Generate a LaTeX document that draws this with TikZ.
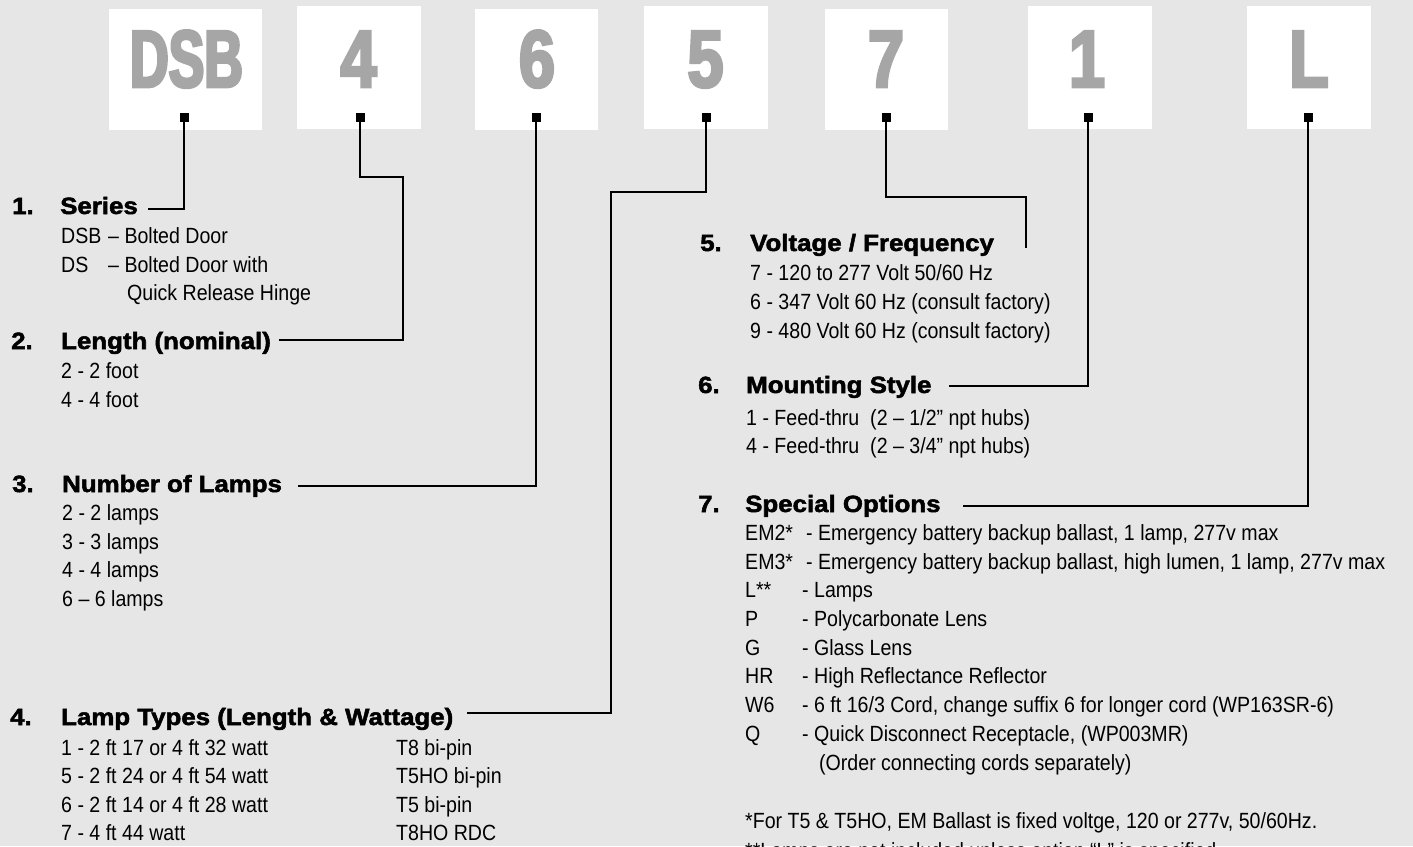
\documentclass[tikz,border=0pt]{standalone}
\usepackage{fontspec}
\setmainfont{Liberation Sans}[FakeStretch=0.89]
\newfontfamily\headfont{Liberation Sans}[UprightFont=* Bold, FakeStretch=1.1, FakeBold=2.2]
\newfontfamily\bigletfont{Liberation Sans}[UprightFont=* Bold, FakeStretch=0.66, FakeBold=3.5]
\newfontfamily\bigdigfont{Liberation Sans}[UprightFont=* Bold, FakeStretch=0.8, FakeBold=3.5]
\definecolor{bgc}{HTML}{E6E6E6}
\definecolor{letc}{HTML}{A6A6A6}
\tikzset{
  codebox/.style={fill=white, draw=none, inner sep=0pt},
  biglet/.style={anchor=base, inner sep=0pt, text=letc, font=\bigletfont\fontsize{81}{81}\selectfont},
  bigdig/.style={anchor=base, inner sep=0pt, text=letc, font=\bigdigfont\fontsize{81}{81}\selectfont},
  sq/.style={fill=black, draw=none, minimum size=9pt, inner sep=0pt},
  conn/.style={draw=black, line width=2.7pt},
  num/.style={anchor=base west, inner sep=0pt, font=\headfont\fontsize{23.5}{26}\selectfont},
  head/.style={anchor=base west, inner sep=0pt, font=\headfont\fontsize{23.5}{26}\selectfont},
  item/.style={anchor=base west, inner sep=0pt, font=\fontsize{22}{26}\selectfont},
}
\begin{document}
\begin{tikzpicture}[x=1pt, y=-1pt]
\useasboundingbox (0,0) rectangle (1413,846);
\clip (0,0) rectangle (1413,846);
\fill[bgc] (0,0) rectangle (1413,846);

% code boxes
\node[codebox, minimum width=153pt, minimum height=121pt] (b1) at (185.5,69.5) {};
\node[codebox, minimum width=124pt, minimum height=123pt] (b2) at (359,67.5) {};
\node[codebox, minimum width=123pt, minimum height=121pt] (b3) at (536.5,69.5) {};
\node[codebox, minimum width=124pt, minimum height=123pt] (b4) at (706,67.5) {};
\node[codebox, minimum width=123pt, minimum height=121pt] (b5) at (886.5,69.5) {};
\node[codebox, minimum width=124pt, minimum height=123pt] (b6) at (1090,67.5) {};
\node[codebox, minimum width=124pt, minimum height=123pt] (b7) at (1309,67.5) {};

\node[biglet] (t1) at (186.5,87) {DSB};
\node[bigdig] (t2) at (358.5,87) {4};
\node[bigdig] (t3) at (537,87) {6};
\node[bigdig] (t4) at (705.5,87) {5};
\node[bigdig] (t5) at (886,87) {7};
\node[bigdig] (t6) at (1087,87) {1};
\node[bigdig] (t7) at (1309,87) {L};

\node[sq] (s1) at (184,117) {};
\node[sq] (s2) at (360,117) {};
\node[sq] (s3) at (536,117) {};
\node[sq] (s4) at (706,117) {};
\node[sq] (s5) at (886,117) {};
\node[sq] (s6) at (1088,117) {};
\node[sq] (s7) at (1308,117) {};

% connector coordinates
\coordinate (e1) at (148,209);
\coordinate (c2) at (403,177);
\coordinate (e2) at (279,340);
\coordinate (e3) at (298,486);
\coordinate (c4) at (611,192);
\coordinate (e4) at (467,713);
\coordinate (c5) at (1026,197);
\coordinate (e5) at (1026,248);
\coordinate (e6) at (949,386);
\coordinate (e7) at (963,506);

\draw[conn] (s1.center) |- (e1);
\draw[conn] (s2.center) |- (c2) |- (e2);
\draw[conn] (s3.center) |- (e3);
\draw[conn] (s4.center) |- (c4) |- (e4);
\draw[conn] (s5.center) |- (c5) -- (e5);
\draw[conn] (s6.center) |- (e6);
\draw[conn] (s7.center) |- (e7);

% section 1
\node[num] (n1) at (12,214) {1.};
\node[head] (h1) at (60,214) {Series};
\node[item] (i1a) at (61,243) {DSB};
\node[item] (i1b) at (108,243) {– Bolted Door};
\node[item] (i1c) at (61,272) {DS};
\node[item] (i1d) at (108,272) {– Bolted Door with};
\node[item] (i1e) at (127,300) {Quick Release Hinge};

% section 2
\node[num] (n2) at (11,349) {2.};
\node[head] (h2) at (61,349) {Length (nominal)};
\node[item] (i2a) at (61,378) {2 - 2 foot};
\node[item] (i2b) at (61,407) {4 - 4 foot};

% section 3
\node[num] (n3) at (12,492) {3.};
\node[head] (h3) at (62,492) {Number of Lamps};
\node[item] (i3a) at (62,520) {2 - 2 lamps};
\node[item] (i3b) at (62,549) {3 - 3 lamps};
\node[item] (i3c) at (62,577) {4 - 4 lamps};
\node[item] (i3d) at (62,606) {6 – 6 lamps};

% section 4
\node[num] (n4) at (10,725) {4.};
\node[head] (h4) at (61,725) {Lamp Types (Length \& Wattage)};
\node[item] (i4a) at (61,755) {1 - 2 ft 17 or 4 ft 32 watt};
\node[item] (i4b) at (61,783) {5 - 2 ft 24 or 4 ft 54 watt};
\node[item] (i4c) at (61,812) {6 - 2 ft 14 or 4 ft 28 watt};
\node[item] (i4d) at (61,840) {7 - 4 ft 44 watt};
\node[item] (j4a) at (396,755) {T8 bi-pin};
\node[item] (j4b) at (396,783) {T5HO bi-pin};
\node[item] (j4c) at (396,812) {T5 bi-pin};
\node[item] (j4d) at (396,840) {T8HO RDC};

% section 5
\node[num] (n5) at (700,251) {5.};
\node[head] (h5) at (750,251) {Voltage / Frequency};
\node[item] (i5a) at (750,280) {7 - 120 to 277 Volt 50/60 Hz};
\node[item] (i5b) at (750,309) {6 - 347 Volt 60 Hz (consult factory)};
\node[item] (i5c) at (750,338) {9 - 480 Volt 60 Hz (consult factory)};

% section 6
\node[num] (n6) at (698,393) {6.};
\node[head] (h6) at (746,393) {Mounting Style};
\node[item] (i6a) at (746,425) {1 - Feed-thru\ \ (2 – 1/2” npt hubs)};
\node[item] (i6b) at (746,453) {4 - Feed-thru\ \ (2 – 3/4” npt hubs)};

% section 7
\node[num] (n7) at (698,512) {7.};
\node[head] (h7) at (745,512) {Special Options};
\node[item] (k7a) at (745,540) {EM2*};
\node[item] (i7a) at (806,540) {- Emergency battery backup ballast, 1 lamp, 277v max};
\node[item] (k7b) at (745,569) {EM3*};
\node[item] (i7b) at (806,569) {- Emergency battery backup ballast, high lumen, 1 lamp, 277v max};
\node[item] (k7c) at (745,597) {L**};
\node[item] (i7c) at (802,597) {- Lamps};
\node[item] (k7d) at (745,626) {P};
\node[item] (i7d) at (802,626) {- Polycarbonate Lens};
\node[item] (k7e) at (745,655) {G};
\node[item] (i7e) at (802,655) {- Glass Lens};
\node[item] (k7f) at (745,683) {HR};
\node[item] (i7f) at (802,683) {- High Reflectance Reflector};
\node[item] (k7g) at (745,712) {W6};
\node[item] (i7g) at (802,712) {- 6 ft 16/3 Cord, change suffix 6 for longer cord (WP163SR-6)};
\node[item] (k7h) at (745,741) {Q};
\node[item] (i7h) at (802,741) {- Quick Disconnect Receptacle, (WP003MR)};
\node[item] (i7i) at (819,770) {(Order connecting cords separately)};

\node[item] (f1) at (745,828) {*For T5 \& T5HO, EM Ballast is fixed voltge, 120 or 277v, 50/60Hz.};
\node[item] (f2) at (745,858) {**Lamps are not included unless option “L” is specified.};
\end{tikzpicture}
\end{document}
